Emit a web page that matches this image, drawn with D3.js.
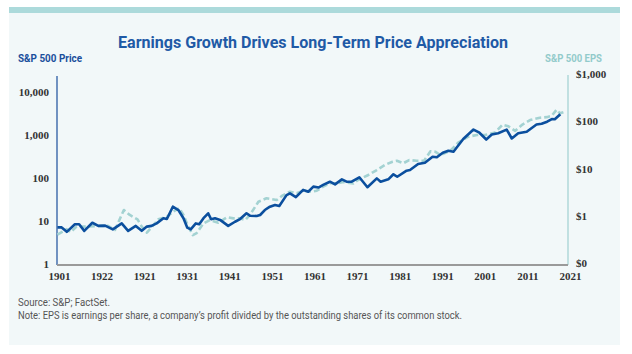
<!DOCTYPE html>
<html lang="en">
<head>
<meta charset="utf-8">
<title>Earnings Growth Drives Long-Term Price Appreciation</title>
<script src="https://d3js.org/d3.v7.min.js"></script>
<style>
  body { margin: 0; background: #fff; }
  svg { display: block; }
  .tick text { font-family: "Liberation Serif", serif; font-weight: bold; font-size: 11px; fill: #333; }
</style>
</head>
<body>
<div id="chart"></div>
<script>
// Data
const priceYears = [1901.1, 1902.1, 1903.3, 1905.2, 1906.2, 1907.4, 1909.3, 1910.7, 1912.3, 1914.1, 1916.2, 1917.7, 1919.5, 1920.9, 1922.1, 1923.2, 1924.4, 1926.0, 1926.8, 1928.2, 1929.5, 1930.7, 1931.6, 1932.4, 1933.6, 1934.4, 1935.4, 1936.5, 1937.2, 1938.1, 1939.3, 1941.2, 1942.8, 1944.0, 1945.5, 1946.3, 1947.9, 1948.7, 1949.8, 1951.0, 1952.2, 1953.2, 1954.9, 1955.7, 1957.1, 1958.8, 1960.0, 1961.2, 1962.4, 1963.5, 1965.1, 1966.3, 1967.9, 1969.0, 1970.2, 1972.0, 1973.9, 1976.1, 1977.0, 1978.8, 1980.0, 1980.9, 1983.1, 1983.9, 1985.8, 1987.4, 1989.2, 1990.2, 1991.6, 1992.9, 1994.1, 1996.4, 1998.8, 2000.2, 2001.8, 2003.1, 2004.6, 2006.6, 2007.8, 2009.3, 2011.3, 2013.6, 2014.8, 2016.1, 2017.2, 2017.9, 2019.2];
const priceValues = [7.1, 7.1, 5.6, 8.4, 8.4, 5.9, 9.1, 7.7, 7.8, 6.4, 8.8, 5.9, 7.7, 5.9, 7.4, 7.7, 8.8, 11.6, 11.1, 21.5, 18, 11.6, 7, 6.4, 8.8, 8.4, 11.6, 15.1, 11, 11.6, 10.6, 7.7, 9.6, 11.1, 15.1, 13.3, 13.1, 13.8, 18, 21.5, 23.6, 22.3, 40, 44, 36, 53, 48, 63, 60, 69, 82, 71, 93, 82, 82, 104, 61, 98, 82, 93, 122, 107, 148, 153, 212, 227, 313, 303, 387, 431, 409, 807, 1340, 1130, 785, 1030, 1100, 1330, 830, 1100, 1190, 1750, 1830, 2040, 2350, 2320, 3050];

const epsYears = [1901.1, 1903.3, 1904.2, 1905.6, 1908.0, 1911.1, 1913.0, 1914.6, 1916.7, 1918.1, 1919.9, 1920.9, 1922.1, 1923.2, 1924.8, 1926.8, 1928.3, 1929.7, 1930.7, 1931.6, 1932.9, 1933.8, 1935.4, 1936.9, 1938.9, 1940.9, 1942.4, 1944.0, 1945.2, 1946.3, 1948.3, 1950.2, 1952.6, 1953.8, 1955.7, 1957.3, 1958.8, 1960.8, 1962.0, 1963.5, 1965.1, 1966.7, 1968.2, 1970.6, 1971.7, 1974.1, 1976.1, 1978.0, 1979.8, 1980.8, 1982.3, 1983.7, 1985.5, 1987.2, 1988.7, 1989.8, 1991.0, 1993.3, 1995.2, 1997.6, 1999.6, 2001.5, 2003.9, 2005.6, 2007.0, 2008.6, 2010.3, 2012.1, 2014.4, 2016.0, 2017.2, 2018.3, 2019.1, 2020.3];
const epsValues = [0.40, 0.52, 0.45, 0.59, 0.59, 0.61, 0.61, 0.50, 1.32, 1.04, 0.84, 0.59, 0.44, 0.57, 0.84, 0.95, 1.22, 1.44, 1.04, 0.66, 0.39, 0.43, 0.69, 0.81, 0.71, 0.93, 0.88, 0.88, 0.81, 1.04, 1.98, 2.34, 2.15, 2.62, 3.23, 2.99, 3.39, 3.23, 3.39, 4.12, 4.86, 4.86, 5.18, 4.82, 5.71, 7.28, 9.29, 11.9, 13.9, 14.6, 12.9, 15.1, 14.6, 14.6, 23.2, 22.7, 19.3, 23.5, 35.2, 47.1, 51.2, 51.2, 57.8, 84.5, 78.2, 62.8, 85.3, 106, 119, 122, 131, 175, 147, 159];

const xTickYears = [1901, 1911, 1921, 1931, 1941, 1951, 1961, 1971, 1981, 1991, 2001, 2011, 2021];
const xTickLabels = ["1901", "1922", "1921", "1931", "1941", "1951", "1961", "1971", "1981", "1991", "2001", "2011", "2021"];
const priceTicks = [1, 10, 100, 1000, 10000];
const priceTickLabels = ["1", "10", "100", "1,000", "10,000"];
const epsTicks = [0.1, 1, 10, 100, 1000];
const epsTickLabels = ["$0", "$1", "$10", "$100", "$1,000"];

const width = 632;
const height = 354;
const plot = { left: 57, right: 568, top: 76, bottom: 265 };
const sans = "Roboto, 'Noto Sans', sans-serif";

const svg = d3.select("#chart")
  .append("svg")
  .attr("width", width)
  .attr("height", height);

// Panel
svg.append("rect")
  .attr("x", 9).attr("y", 7).attr("width", 611).attr("height", 338)
  .attr("fill", "#f2f8f9");
svg.append("rect")
  .attr("x", 9).attr("y", 7).attr("width", 611).attr("height", 6)
  .attr("fill", "#acdadb");

// Title and axis titles (condensed look via textLength)
svg.append("text")
  .attr("x", 118).attr("y", 48)
  .attr("font-family", sans)
  .attr("font-weight", "bold")
  .attr("font-size", "17px")
  .attr("fill", "#1f5aa6")
  .attr("textLength", 390)
  .attr("lengthAdjust", "spacingAndGlyphs")
  .text("Earnings Growth Drives Long-Term Price Appreciation");

svg.append("text")
  .attr("x", 18).attr("y", 62)
  .attr("font-family", sans)
  .attr("font-weight", "bold")
  .attr("font-size", "11px")
  .attr("fill", "#1a4f9c")
  .attr("textLength", 64)
  .attr("lengthAdjust", "spacingAndGlyphs")
  .text("S&P 500 Price");

svg.append("text")
  .attr("x", 545).attr("y", 62)
  .attr("font-family", sans)
  .attr("font-weight", "bold")
  .attr("font-size", "11px")
  .attr("fill", "#92cbcb")
  .attr("textLength", 57)
  .attr("lengthAdjust", "spacingAndGlyphs")
  .text("S&P 500 EPS");

// Scales
const x = d3.scaleLinear()
  .domain([1901, 2021])
  .range([plot.left, plot.right]);

const yPrice = d3.scaleLog()
  .domain([1, 10000])
  .range([264, 92]);

const yEps = d3.scaleLog()
  .domain([0.1, 1000])
  .range([263, 74]);

// Axes
const xAxis = d3.axisBottom(x)
  .tickValues(xTickYears)
  .tickSize(0)
  .tickPadding(7)
  .tickFormat((d, i) => xTickLabels[i]);

svg.append("g")
  .attr("transform", `translate(2,${plot.bottom})`)
  .call(xAxis)
  .call(g => g.select(".domain").remove());

const yAxisLeft = d3.axisLeft(yPrice)
  .tickValues(priceTicks)
  .tickSize(0)
  .tickPadding(8)
  .tickFormat((d, i) => priceTickLabels[i]);

svg.append("g")
  .attr("transform", `translate(${plot.left},0)`)
  .call(yAxisLeft)
  .call(g => g.select(".domain").remove());

const yAxisRight = d3.axisRight(yEps)
  .tickValues(epsTicks)
  .tickSize(0)
  .tickPadding(8)
  .tickFormat((d, i) => epsTickLabels[i]);

svg.append("g")
  .attr("transform", `translate(${plot.right},0)`)
  .call(yAxisRight)
  .call(g => g.select(".domain").remove());

// Axis lines
svg.append("line")
  .attr("x1", plot.left).attr("x2", plot.left)
  .attr("y1", plot.top).attr("y2", plot.bottom)
  .attr("stroke", "#1a4f9c").attr("stroke-width", 1.2);

svg.append("line")
  .attr("x1", plot.right).attr("x2", plot.right)
  .attr("y1", plot.top - 1).attr("y2", plot.bottom)
  .attr("stroke", "#9fd0d0").attr("stroke-width", 1.2);

svg.append("line")
  .attr("x1", plot.left).attr("x2", plot.right)
  .attr("y1", plot.bottom).attr("y2", plot.bottom)
  .attr("stroke", "#9a9a9a").attr("stroke-width", 1.8);

// Lines
const epsData = epsYears.map((yr, i) => ({ year: yr, value: epsValues[i] }));
const priceData = priceYears.map((yr, i) => ({ year: yr, value: priceValues[i] }));

svg.append("path")
  .datum(epsData)
  .attr("fill", "none")
  .attr("stroke", "#a3d2d2")
  .attr("stroke-width", 2.6)
  .attr("stroke-dasharray", "6,3")
  .attr("stroke-linejoin", "round")
  .attr("d", d3.line().x(d => x(d.year)).y(d => yEps(d.value)));

svg.append("path")
  .datum(priceData)
  .attr("fill", "none")
  .attr("stroke", "#0b4f9e")
  .attr("stroke-width", 2.6)
  .attr("stroke-linejoin", "round")
  .attr("d", d3.line().x(d => x(d.year)).y(d => yPrice(d.value)));

// Notes
svg.append("text")
  .attr("x", 18).attr("y", 306)
  .attr("font-family", sans)
  .attr("font-size", "10px")
  .attr("fill", "#555")
  .attr("textLength", 92)
  .attr("lengthAdjust", "spacingAndGlyphs")
  .text("Source: S&P; FactSet.");

svg.append("text")
  .attr("x", 18).attr("y", 319)
  .attr("font-family", sans)
  .attr("font-size", "10px")
  .attr("fill", "#555")
  .attr("textLength", 444)
  .attr("lengthAdjust", "spacingAndGlyphs")
  .text("Note: EPS is earnings per share, a company\u2019s profit divided by the outstanding shares of its common stock.");
</script>
</body>
</html>
